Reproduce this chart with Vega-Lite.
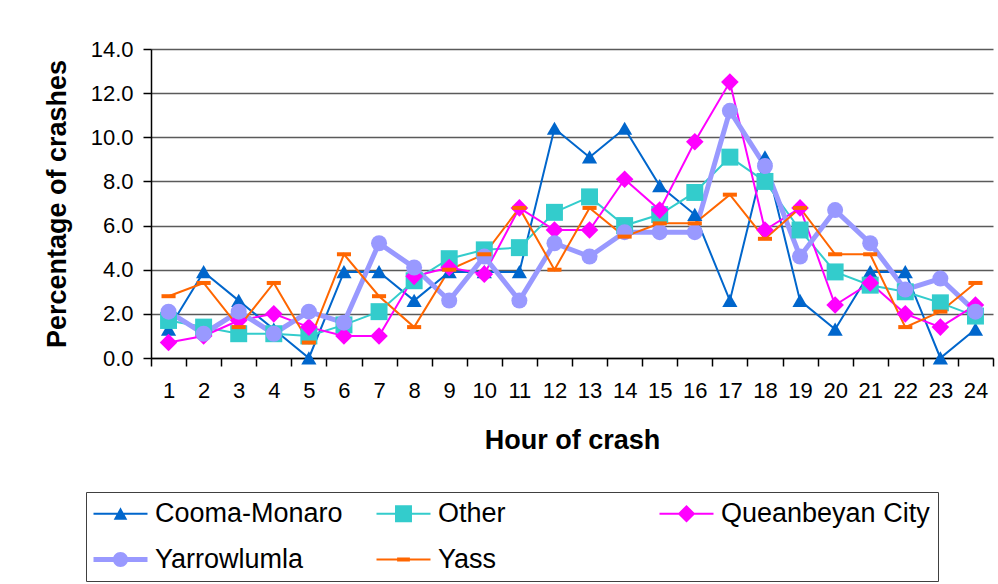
{
  "$schema": "https://vega.github.io/schema/vega-lite/v6.json",
  "autosize": {"type": "none"},
  "width": 842,
  "height": 309,
  "padding": {"left": 151, "top": 49, "right": 5, "bottom": 226},
  "background": "white",
  "config": {"view": {"stroke": null}, "font": "Liberation Sans"},
  "data": {"values": [
    {"hour":1,"series":"Cooma-Monaro","pct":1.3},{"hour":2,"series":"Cooma-Monaro","pct":3.9},{"hour":3,"series":"Cooma-Monaro","pct":2.6},{"hour":4,"series":"Cooma-Monaro","pct":1.3},{"hour":5,"series":"Cooma-Monaro","pct":0.0},{"hour":6,"series":"Cooma-Monaro","pct":3.9},{"hour":7,"series":"Cooma-Monaro","pct":3.9},{"hour":8,"series":"Cooma-Monaro","pct":2.6},{"hour":9,"series":"Cooma-Monaro","pct":3.9},{"hour":10,"series":"Cooma-Monaro","pct":3.9},{"hour":11,"series":"Cooma-Monaro","pct":3.9},{"hour":12,"series":"Cooma-Monaro","pct":10.4},{"hour":13,"series":"Cooma-Monaro","pct":9.1},{"hour":14,"series":"Cooma-Monaro","pct":10.4},{"hour":15,"series":"Cooma-Monaro","pct":7.8},{"hour":16,"series":"Cooma-Monaro","pct":6.5},{"hour":17,"series":"Cooma-Monaro","pct":2.6},{"hour":18,"series":"Cooma-Monaro","pct":9.1},{"hour":19,"series":"Cooma-Monaro","pct":2.6},{"hour":20,"series":"Cooma-Monaro","pct":1.3},{"hour":21,"series":"Cooma-Monaro","pct":3.9},{"hour":22,"series":"Cooma-Monaro","pct":3.9},{"hour":23,"series":"Cooma-Monaro","pct":0.0},{"hour":24,"series":"Cooma-Monaro","pct":1.3},
    {"hour":1,"series":"Other","pct":1.7},{"hour":2,"series":"Other","pct":1.4},{"hour":3,"series":"Other","pct":1.1},{"hour":4,"series":"Other","pct":1.1},{"hour":5,"series":"Other","pct":1.0},{"hour":6,"series":"Other","pct":1.5},{"hour":7,"series":"Other","pct":2.1},{"hour":8,"series":"Other","pct":3.5},{"hour":9,"series":"Other","pct":4.5},{"hour":10,"series":"Other","pct":4.9},{"hour":11,"series":"Other","pct":5.0},{"hour":12,"series":"Other","pct":6.6},{"hour":13,"series":"Other","pct":7.3},{"hour":14,"series":"Other","pct":6.0},{"hour":15,"series":"Other","pct":6.5},{"hour":16,"series":"Other","pct":7.5},{"hour":17,"series":"Other","pct":9.1},{"hour":18,"series":"Other","pct":8.0},{"hour":19,"series":"Other","pct":5.8},{"hour":20,"series":"Other","pct":3.9},{"hour":21,"series":"Other","pct":3.3},{"hour":22,"series":"Other","pct":3.0},{"hour":23,"series":"Other","pct":2.5},{"hour":24,"series":"Other","pct":1.9},
    {"hour":1,"series":"Queanbeyan City","pct":0.7},{"hour":2,"series":"Queanbeyan City","pct":1.0},{"hour":3,"series":"Queanbeyan City","pct":1.7},{"hour":4,"series":"Queanbeyan City","pct":2.0},{"hour":5,"series":"Queanbeyan City","pct":1.4},{"hour":6,"series":"Queanbeyan City","pct":1.0},{"hour":7,"series":"Queanbeyan City","pct":1.0},{"hour":8,"series":"Queanbeyan City","pct":3.7},{"hour":9,"series":"Queanbeyan City","pct":4.1},{"hour":10,"series":"Queanbeyan City","pct":3.8},{"hour":11,"series":"Queanbeyan City","pct":6.8},{"hour":12,"series":"Queanbeyan City","pct":5.8},{"hour":13,"series":"Queanbeyan City","pct":5.8},{"hour":14,"series":"Queanbeyan City","pct":8.1},{"hour":15,"series":"Queanbeyan City","pct":6.7},{"hour":16,"series":"Queanbeyan City","pct":9.8},{"hour":17,"series":"Queanbeyan City","pct":12.5},{"hour":18,"series":"Queanbeyan City","pct":5.8},{"hour":19,"series":"Queanbeyan City","pct":6.8},{"hour":20,"series":"Queanbeyan City","pct":2.4},{"hour":21,"series":"Queanbeyan City","pct":3.4},{"hour":22,"series":"Queanbeyan City","pct":2.0},{"hour":23,"series":"Queanbeyan City","pct":1.4},{"hour":24,"series":"Queanbeyan City","pct":2.4},
    {"hour":1,"series":"Yarrowlumla","pct":2.1},{"hour":2,"series":"Yarrowlumla","pct":1.1},{"hour":3,"series":"Yarrowlumla","pct":2.1},{"hour":4,"series":"Yarrowlumla","pct":1.1},{"hour":5,"series":"Yarrowlumla","pct":2.1},{"hour":6,"series":"Yarrowlumla","pct":1.6},{"hour":7,"series":"Yarrowlumla","pct":5.2},{"hour":8,"series":"Yarrowlumla","pct":4.1},{"hour":9,"series":"Yarrowlumla","pct":2.6},{"hour":10,"series":"Yarrowlumla","pct":4.6},{"hour":11,"series":"Yarrowlumla","pct":2.6},{"hour":12,"series":"Yarrowlumla","pct":5.2},{"hour":13,"series":"Yarrowlumla","pct":4.6},{"hour":14,"series":"Yarrowlumla","pct":5.7},{"hour":15,"series":"Yarrowlumla","pct":5.7},{"hour":16,"series":"Yarrowlumla","pct":5.7},{"hour":17,"series":"Yarrowlumla","pct":11.2},{"hour":18,"series":"Yarrowlumla","pct":8.7},{"hour":19,"series":"Yarrowlumla","pct":4.6},{"hour":20,"series":"Yarrowlumla","pct":6.7},{"hour":21,"series":"Yarrowlumla","pct":5.2},{"hour":22,"series":"Yarrowlumla","pct":3.1},{"hour":23,"series":"Yarrowlumla","pct":3.6},{"hour":24,"series":"Yarrowlumla","pct":2.1},
    {"hour":1,"series":"Yass","pct":2.8},{"hour":2,"series":"Yass","pct":3.4},{"hour":3,"series":"Yass","pct":1.4},{"hour":4,"series":"Yass","pct":3.4},{"hour":5,"series":"Yass","pct":0.7},{"hour":6,"series":"Yass","pct":4.7},{"hour":7,"series":"Yass","pct":2.8},{"hour":8,"series":"Yass","pct":1.4},{"hour":9,"series":"Yass","pct":4.0},{"hour":10,"series":"Yass","pct":4.7},{"hour":11,"series":"Yass","pct":6.8},{"hour":12,"series":"Yass","pct":4.0},{"hour":13,"series":"Yass","pct":6.8},{"hour":14,"series":"Yass","pct":5.5},{"hour":15,"series":"Yass","pct":6.1},{"hour":16,"series":"Yass","pct":6.1},{"hour":17,"series":"Yass","pct":7.4},{"hour":18,"series":"Yass","pct":5.4},{"hour":19,"series":"Yass","pct":6.8},{"hour":20,"series":"Yass","pct":4.7},{"hour":21,"series":"Yass","pct":4.7},{"hour":22,"series":"Yass","pct":1.4},{"hour":23,"series":"Yass","pct":2.1},{"hour":24,"series":"Yass","pct":3.4}
  ]},
  "encoding": {
    "x": {
      "field": "hour", "type": "ordinal",
      "scale": {"paddingInner": 0, "paddingOuter": 0},
      "axis": {
        "title": "Hour of crash", "titleFontSize": 27, "titleFontWeight": "bold", "titleColor": "black", "titlePadding": 26,
        "labelAngle": 0, "labelFontSize": 22, "labelColor": "black", "labelPadding": 14,
        "tickBand": "extent", "tickSize": 8, "tickColor": "black", "tickWidth": 1.5,
        "domainColor": "black", "domainWidth": 1.5, "grid": false
      }
    },
    "y": {
      "field": "pct", "type": "quantitative",
      "scale": {"domain": [0, 14], "nice": false},
      "axis": {
        "title": "Percentage of crashes", "titleFontSize": 27, "titleFontWeight": "bold", "titleColor": "black", "titlePadding": 19,
        "values": [0, 2, 4, 6, 8, 10, 12, 14], "format": ".1f",
        "labelFontSize": 22, "labelColor": "black", "labelPadding": 10,
        "tickSize": 8, "tickColor": "black", "tickWidth": 1.5,
        "domainColor": "black", "domainWidth": 1.5,
        "grid": true, "gridColor": "#5a5a5a", "gridWidth": 1.5
      }
    }
  },
  "resolve": {"scale": {"color": "independent", "shape": "independent"}},
  "layer": [
    {
      "mark": {"type": "line", "strokeJoin": "miter"},
      "encoding": {
        "color": {
          "field": "series", "type": "nominal",
          "scale": {"domain": ["Cooma-Monaro", "Other", "Queanbeyan City", "Yarrowlumla", "Yass"], "range": ["#0066CC", "#33CCCC", "#FF00FF", "#9999FF", "#FF6600"]},
          "legend": null
        },
        "strokeWidth": {"condition": {"test": "datum.series === 'Yarrowlumla'", "value": 5}, "value": 2}
      }
    },
    {
      "mark": {"type": "point", "filled": true, "size": 256, "opacity": 1, "strokeWidth": 0},
      "encoding": {
        "color": {
          "field": "series", "type": "nominal",
          "scale": {"domain": ["Cooma-Monaro", "Other", "Queanbeyan City", "Yarrowlumla", "Yass"], "range": ["#0066CC", "#33CCCC", "#FF00FF", "#9999FF", "#FF6600"]},
          "legend": null
        },
        "shape": {
          "field": "series", "type": "nominal",
          "scale": {
            "domain": ["Cooma-Monaro", "Other", "Queanbeyan City", "Yarrowlumla", "Yass"],
            "range": ["M0,-0.85L0.95,0.8H-0.95Z", "M-1.06,-1.06H1.06V1.06H-1.06Z", "M0,-1.1L1.1,0L0,1.1L-1.1,0Z", "circle", "M-0.88,-0.25H0.88V0.25H-0.88Z"]
          },
          "legend": null
        }
      }
    },
    {
      "transform": [{"filter": "datum.hour > 100"}],
      "mark": {"type": "point", "filled": true, "size": 256, "opacity": 1, "strokeWidth": 0},
      "encoding": {
        "color": {
          "field": "series", "type": "nominal",
          "scale": {"domain": ["Cooma-Monaro", "Other", "Queanbeyan City", "Yarrowlumla", "Yass"], "range": ["#0066CC", "#33CCCC", "#FF00FF", "#9999FF", "#FF6600"]},
          "legend": {
            "title": null, "orient": "none", "legendX": -65, "legendY": 443,
            "columns": 3, "direction": "horizontal", "gridAlign": "all",
            "columnPadding": 12, "rowPadding": 18, "padding": 8,
            "strokeColor": "#404040", "fillColor": "white",
            "labelFontSize": 27, "labelFont": "Liberation Sans", "labelColor": "black",
            "labelOffset": 34, "labelLimit": 400, "symbolSize": 256, "symbolStrokeWidth": 0
          }
        },
        "shape": {
          "field": "series", "type": "nominal",
          "scale": {
            "domain": ["Cooma-Monaro", "Other", "Queanbeyan City", "Yarrowlumla", "Yass"],
            "range": [
              "M-1.75,-0.12H5V0.12H-1.75Z M1.625,-0.8L2.475,0.75H0.775Z",
              "M-1.75,-0.12H5V0.12H-1.75Z M0.565,-1.06H2.685V1.06H0.565Z",
              "M-1.75,-0.12H5V0.12H-1.75Z M1.625,-1.1L2.725,0L1.625,1.1L0.525,0Z",
              "M-1.75,-0.31H5V0.31H-1.75Z M0.685,0A0.94,0.94 0 1,1 2.565,0A0.94,0.94 0 1,1 0.685,0Z",
              "M-1.75,-0.12H5V0.12H-1.75Z M0.825,-0.25H2.425V0.25H0.825Z"
            ]
          },
          "legend": {
            "title": null, "orient": "none", "legendX": -65, "legendY": 443,
            "columns": 3, "direction": "horizontal", "gridAlign": "all",
            "columnPadding": 12, "rowPadding": 18, "padding": 8,
            "strokeColor": "#404040", "fillColor": "white",
            "labelFontSize": 27, "labelFont": "Liberation Sans", "labelColor": "black",
            "labelOffset": 34, "labelLimit": 400, "symbolSize": 256, "symbolStrokeWidth": 0
          }
        }
      }
    }
  ]
}
